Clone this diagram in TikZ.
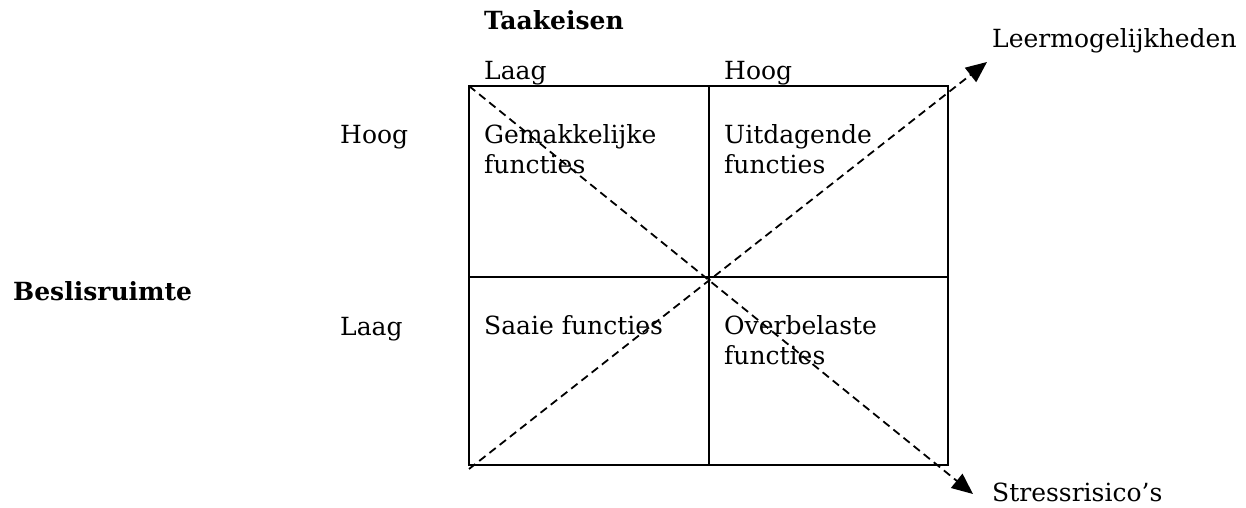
\documentclass[tikz,border=0pt]{standalone}
\usepackage{fontspec}
\setmainfont{DejaVu Serif}
\usetikzlibrary{arrows.meta}
\begin{document}
\begin{tikzpicture}[x=1pt,y=-1pt,
  lbl/.style={anchor=base west,inner sep=0pt,font=\fontsize{25}{30}\selectfont},
  bold/.style={lbl,font=\fontsize{25}{30}\selectfont\bfseries},
  grid/.style={line width=2pt},
  dline/.style={line width=1.8pt,dash pattern=on 8pt off 5pt,-{Triangle[length=21pt,width=18pt]}}]
\useasboundingbox (0,0) rectangle (1246,508);
% box corners
\coordinate (tl) at (469,86);
\coordinate (br) at (948,465);
\coordinate (tm) at (709,86);
\coordinate (bm) at (709,465);
\coordinate (ml) at (469,277);
\coordinate (mr) at (948,277);
\coordinate (dl) at (469,469);
\coordinate (lm) at (987,62);
\coordinate (sr) at (973,494);
\draw[grid] (tl) rectangle (br);
\draw[grid] (tm) -- (bm);
\draw[grid] (ml) -- (mr);
\draw[dline] (tl) -- (sr);
\draw[dline] (dl) -- (lm);
% labels
\node[bold] (tk) at (484,30) {Taakeisen};
\node[lbl] (l1) at (484,80) {Laag};
\node[lbl] (h1) at (724,80) {Hoog};
\node[lbl] (h2) at (340,143) {Hoog};
\node[lbl] (l2) at (340,335) {Laag};
\node[bold] (bs) at (13,300) {Beslisruimte};
\node[lbl] (lg) at (992,48) {Leermogelijkheden};
\node[lbl] (st) at (992,501) {Stressrisico’s};
\node[lbl] (c1a) at (484,143) {Gemakkelijke};
\node[lbl] (c1b) at (484,173) {functies};
\node[lbl] (c2a) at (724,143) {Uitdagende};
\node[lbl] (c2b) at (724,173) {functies};
\node[lbl] (c3a) at (484,334) {Saaie functies};
\node[lbl] (c4a) at (724,334) {Overbelaste};
\node[lbl] (c4b) at (724,364) {functies};
\end{tikzpicture}
\end{document}
